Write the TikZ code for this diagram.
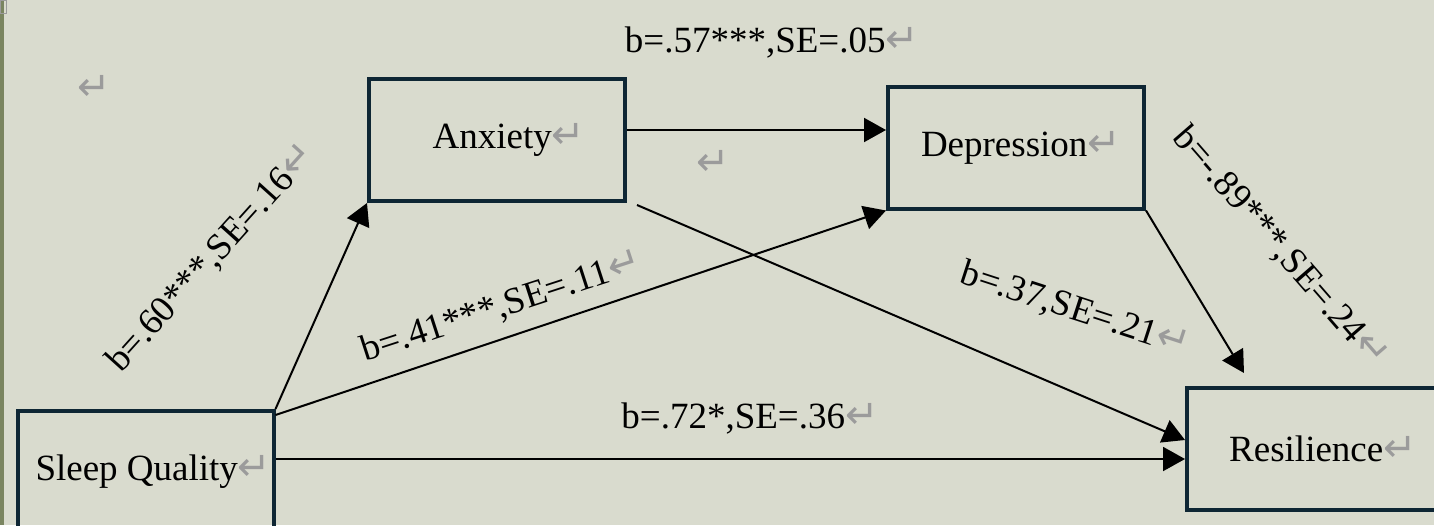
\documentclass[tikz,border=0pt]{standalone}
\usepackage{fontspec}
\setmainfont{Liberation Serif}
\newfontfamily\symf{DejaVu Sans}
\usetikzlibrary{arrows.meta,calc}
\definecolor{bg}{RGB}{217,219,206}
\definecolor{boxc}{RGB}{14,38,52}
\definecolor{markc}{RGB}{155,155,155}
\definecolor{strip}{RGB}{122,133,96}
\newcommand{\rmk}{{\symf\fontsize{20}{20}\selectfont\color{markc}↵}}
\begin{document}
\begin{tikzpicture}[x=0.5pt,y=-0.5pt,
  box/.style={draw=boxc,line width=2pt,minimum width=128pt,minimum height=61pt,inner sep=0pt,font=\fontsize{18.5}{20}\selectfont},
  lbl/.style={font=\fontsize{18.5}{20}\selectfont,inner sep=0pt},
  arr/.style={line width=1pt,-{Triangle[length=11pt,width=12pt]}},
  pm/.style={inner sep=0pt}
]
\fill[bg] (0,0) rectangle (1434,525);
\useasboundingbox (0,0) rectangle (1434,525);
\clip (0,0) rectangle (1434,525);
\fill[strip] (0,0) rectangle (4,525);
\draw[markc,line width=0.5pt] (0,0) rectangle (6,13);

\node[box] (anx) at (497,140) {\hspace{12pt}Anxiety\rmk};
\node[box] (dep) at (1016,147.5) {\hspace{5pt}Depression\rmk};
\node[box] (sq) at (145.5,472) {\hspace{8pt}Sleep Quality\rmk};
\node[box] (res) at (1315,449) {\hspace{8pt}Resilience\rmk};

\draw[arr] (sq.north east) -- (anx.south west);
\draw[arr] ($(sq.north east)+(0,6)$) -- (dep.south west);
\draw[arr] ($(sq.east)+(0,-13)$) -- ($(res.west)+(0,10)$);
\draw[arr] ($(anx.east)+(0,-10)$) coordinate (a1) -- (a1 -| dep.west);
\draw[arr] ($(anx.south east)+(10,2)$) -- ($(res.west)+(0,-9)$);
\draw[arr] (dep.south east) -- ($(res.north west)+(59,-13)$);

\node[lbl,anchor=base] (l1) at (772,52) {b=.57***,SE=.05\rmk};
\node[lbl,anchor=base] (l2) at (750,428) {b=.72*,SE=.36\rmk};
\node[lbl,rotate=48] (l3) at (212,258) {b=.60***,SE=.16\rmk};
\node[lbl,rotate=18] (l4) at (502,307) {b=.41***,SE=.11\rmk};
\node[lbl,rotate=-18] (l5) at (1075,310) {b=.37,SE=.21\rmk};
\node[lbl,rotate=-49] (l6) at (1280,248) {b=-.89***,SE=.24\rmk};

\node[pm] (m1) at (94,88) {\rmk};
\node[pm] (m2) at (713,163) {\rmk};
\end{tikzpicture}
\end{document}
